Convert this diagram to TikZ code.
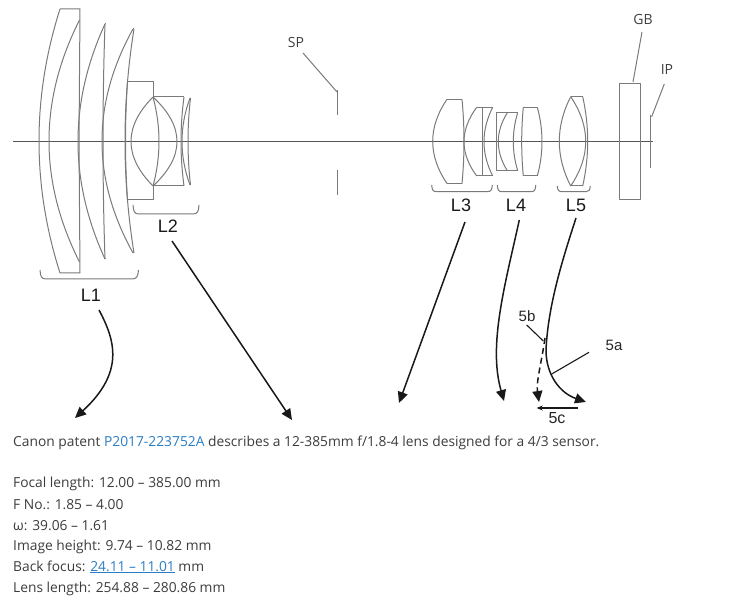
\documentclass[tikz,border=0pt]{standalone}
\usepackage{fontspec}
\setmainfont{Open Sans}
\newfontfamily\labelfont{Liberation Sans}
\usetikzlibrary{arrows.meta}
\definecolor{lensgray}{HTML}{7A7A7A}
\definecolor{axisgray}{HTML}{555555}
\definecolor{bodytext}{HTML}{3C3C3C}
\definecolor{linkblue}{HTML}{2A7DC4}
\newcommand\lensarc[4]{(#1,#2) .. controls ({(4*#3-#1)/3},{#2+(#4-#2)/3}) and ({(4*#3-#1)/3},{#4-(#4-#2)/3}) .. (#1,#4)}
\tikzset{
  lens/.style={draw=lensgray,line width=1pt,line join=round},
  axisline/.style={draw=axisgray,line width=1pt},
  brace/.style={draw=lensgray,line width=1pt},
  leader/.style={draw=lensgray,line width=1pt},
  bigarrow/.style={draw=black!90,line width=1.5pt,-{Triangle[length=11pt,width=10pt]}},
  plainbig/.style={draw=black!90,line width=1.5pt},
  thinarrow/.style={draw=black!90,line width=1.1pt},
  grouplabel/.style={font=\labelfont\fontsize{18}{20}\selectfont,text=black!90,inner sep=0pt},
  refA/.style={font=\labelfont\fontsize{15}{17}\selectfont,text=black!85,inner sep=0pt},
  reflabel/.style={font=\fontsize{14}{16}\selectfont,text=black!75,inner sep=0pt},
  bodyline/.style={font=\fontsize{13.8}{16}\selectfont,text=bodytext,anchor=base west,inner sep=0pt},
}
\begin{document}
\begin{tikzpicture}[x=1pt,y=-1pt]
\useasboundingbox (0,0) rectangle (750,601);
% axis
\coordinate (axA) at (13,141.5);
\coordinate (axB) at (653,141.5);
\draw[axisline] (axA) -- (axB);
% L1
\draw[lens] \lensarc{60}{9}{39}{273};
\draw[lens] (60,9) -- (80,9) -- (79,141) -- (80,273) -- (60,273);
\draw[lens] \lensarc{79.5}{20}{49}{262};
\draw[lens] \lensarc{105}{24}{78}{259};
\draw[lens] \lensarc{105}{24}{103}{259};
\draw[lens] (105,24) -- (106,24) (105,259) -- (106,259);
\draw[lens] \lensarc{133}{29}{102}{253};
\draw[lens] \lensarc{134}{29}{125}{253};
\draw[lens] (133,29) -- (134,29) (133,253) -- (134,253);
% L2
\draw[lens] \lensarc{127.5}{82}{125.5}{200};
\draw[lens] (127.5,82) -- (153,82) -- (153,97) (127.5,200) -- (153,200) -- (153,186);
\draw[lens] \lensarc{153}{97}{131}{186};
\draw[lens] \lensarc{153}{97}{159}{186};
\draw[lens] \lensarc{153}{97}{177}{186};
\draw[lens] (153,97) -- (184,97) (153,186) -- (184,186);
\draw[lens] \lensarc{184}{97}{181}{186};
\draw[lens] \lensarc{190}{98}{182}{185};
\draw[lens] \lensarc{190.5}{98}{188}{185};
% L3
\draw[lens] \lensarc{447}{99.3}{432.7}{183.5};
\draw[lens] (447,99.3) -- (462,99.3) (447,183.5) -- (462,183.5);
\draw[lens] \lensarc{462}{99.3}{464}{183.5};
\draw[lens] \lensarc{476.7}{107.3}{464}{176};
\draw[lens] (476.7,107.3) -- (492.7,107.3) (476.7,176) -- (492.7,176);
\draw[lens] (482.3,107.3) -- (482.3,176);
\draw[lens] \lensarc{492.7}{107.3}{484}{176};
% L4
\draw[lens] (517.7,112.7) -- (496,112.7) -- (496,170.7) -- (517.7,170.7);
\draw[lens] \lensarc{507.3}{112.7}{498.3}{170.7};
\draw[lens] \lensarc{517.7}{112.7}{513.3}{170.7};
\draw[lens] \lensarc{523.3}{107.3}{521.7}{176};
\draw[lens] (523.3,107.3) -- (537.3,107.3) (523.3,176) -- (537.3,176);
\draw[lens] \lensarc{537.3}{107.3}{542}{176};
% L5
\draw[lens] \lensarc{570.7}{96.7}{559.3}{186};
\draw[lens] (570.7,96.7) -- (582.7,96.7) (570.7,186) -- (582.7,186);
\draw[lens] \lensarc{570.7}{96.7}{585.7}{186};
\draw[lens] \lensarc{582.7}{96.7}{587.7}{186};
% stop
\coordinate (spTop) at (337,90);
\coordinate (spA) at (337,115);
\coordinate (spB) at (337,170);
\coordinate (spBot) at (337,195);
\draw[leader] (spTop) -- (spA) (spB) -- (spBot);
% glass block and image plane
\node[lens,minimum width=21pt,minimum height=115.3pt,inner sep=0pt,outer sep=0pt] (gbBlock) at (629.8,141.6) {};
\coordinate (ipTop) at (650.7,115);
\coordinate (ipBot) at (650.7,167.7);
\draw[leader] (ipTop) -- (ipBot);
% reference labels and leaders
\node[reflabel] (spLabel) at (296,43) {SP};
\node[reflabel] (gbLabel) at (643,20) {GB};
\node[reflabel] (ipLabel) at (667,70) {IP};
\coordinate (spLeadA) at (303,53);
\coordinate (spLeadB) at (337,92);
\coordinate (gbLeadA) at (642,32);
\coordinate (gbLeadB) at (633,82);
\coordinate (ipLeadA) at (664.3,84);
\coordinate (ipLeadB) at (651.7,116.7);
\draw[leader] (spLeadA) -- (spLeadB);
\draw[leader] (gbLeadA) -- (gbLeadB);
\draw[leader] (ipLeadA) -- (ipLeadB);
% group braces
\draw[brace] (40,270) .. controls (40.5,276) and (41,279) .. (46,279) -- (132,279) .. controls (137,279) and (138,276) .. (138.5,270);
\draw[brace] (133,205) .. controls (133.5,211) and (134,214) .. (139,214) -- (193,214) .. controls (198,214) and (198.5,211) .. (199,205);
\draw[brace] (431.7,185) .. controls (432,190) and (433,191.7) .. (437,191.7) -- (487,191.7) .. controls (491,191.7) and (492,190) .. (492.3,185);
\draw[brace] (497.3,185) .. controls (497.6,190) and (498.6,191.7) .. (502,191.7) -- (531,191.7) .. controls (534.5,191.7) and (535.5,190) .. (535.8,185);
\draw[brace] (557.3,186) .. controls (557.6,190) and (558.6,191.7) .. (562,191.7) -- (586,191.7) .. controls (589,191.7) and (590,190) .. (590.3,186);
% group labels
\node[grouplabel] (L1) at (91,295) {L1};
\node[grouplabel] (L2) at (168,226) {L2};
\node[grouplabel] (L3) at (461,205) {L3};
\node[grouplabel] (L4) at (516,205) {L4};
\node[grouplabel] (L5) at (576,205) {L5};
\node[refA] (fiveB) at (527,316) {5b};
\node[refA] (fiveA) at (614,345) {5a};
\node[refA,font=\labelfont\fontsize{16}{18}\selectfont] (fiveC) at (557,418) {5c};
% arrows
\coordinate (aL1s) at (99,310); \coordinate (aL1e) at (75,418);
\coordinate (aL2s) at (172,241); \coordinate (aL2e) at (292,420);
\coordinate (aL3s) at (465,222); \coordinate (aL3e) at (399,403);
\coordinate (aL4s) at (519.3,220); \coordinate (aL4e) at (504,401);
\coordinate (aL5s) at (576,218); \coordinate (aL5m) at (546,350); \coordinate (aL5e) at (586,402);
\coordinate (aDashS) at (545,338); \coordinate (aDashE) at (539,402);
\draw[bigarrow] (aL1s) .. controls (115,340) and (125,372) .. (aL1e);
\draw[bigarrow] (aL2s) -- (aL2e);
\draw[bigarrow] (aL3s) -- (aL3e);
\draw[bigarrow] (aL4s) .. controls (505,285) and (488,345) .. (aL4e);
\draw[plainbig] (aL5s) .. controls (563,258) and (548,305) .. (aL5m);
\draw[bigarrow] (aL5m) .. controls (546,375) and (560,393) .. (aL5e);
\draw[bigarrow,dash pattern=on 6pt off 4pt] (aDashS) .. controls (542,360) and (536,382) .. (aDashE);
\coordinate (b5s) at (526.7,325); \coordinate (b5e) at (543.3,341);
\coordinate (a5s) at (589,352.3); \coordinate (a5e) at (551.7,374);
\draw[thinarrow] (b5s) -- (b5e);
\draw[thinarrow] (a5s) -- (a5e);
\coordinate (c5s) at (577.7,408); \coordinate (c5e) at (536.7,408);
\draw[thinarrow,-{Stealth[length=6pt,width=5pt]}] (c5s) -- (c5e);
% text
\node[bodyline] (t1) at (13,447) {Canon patent \textcolor{linkblue}{P2017-223752A} describes a 12-385mm f/1.8-4 lens designed for a 4/3 sensor.};
\node[bodyline] (t2) at (13,488) {Focal length: 12.00 – 385.00 mm};
\node[bodyline] (t3) at (13,509) {F No.: 1.85 – 4.00};
\node[bodyline] (t4) at (13,530) {ω: 39.06 – 1.61};
\node[bodyline] (t5) at (13,550) {Image height: 9.74 – 10.82 mm};
\node[bodyline] (t6) at (13,571) {Back focus: \textcolor{linkblue}{\underline{24.11 – 11.01}} mm};
\node[bodyline] (t7) at (13,592) {Lens length: 254.88 – 280.86 mm};
\end{tikzpicture}
\end{document}
